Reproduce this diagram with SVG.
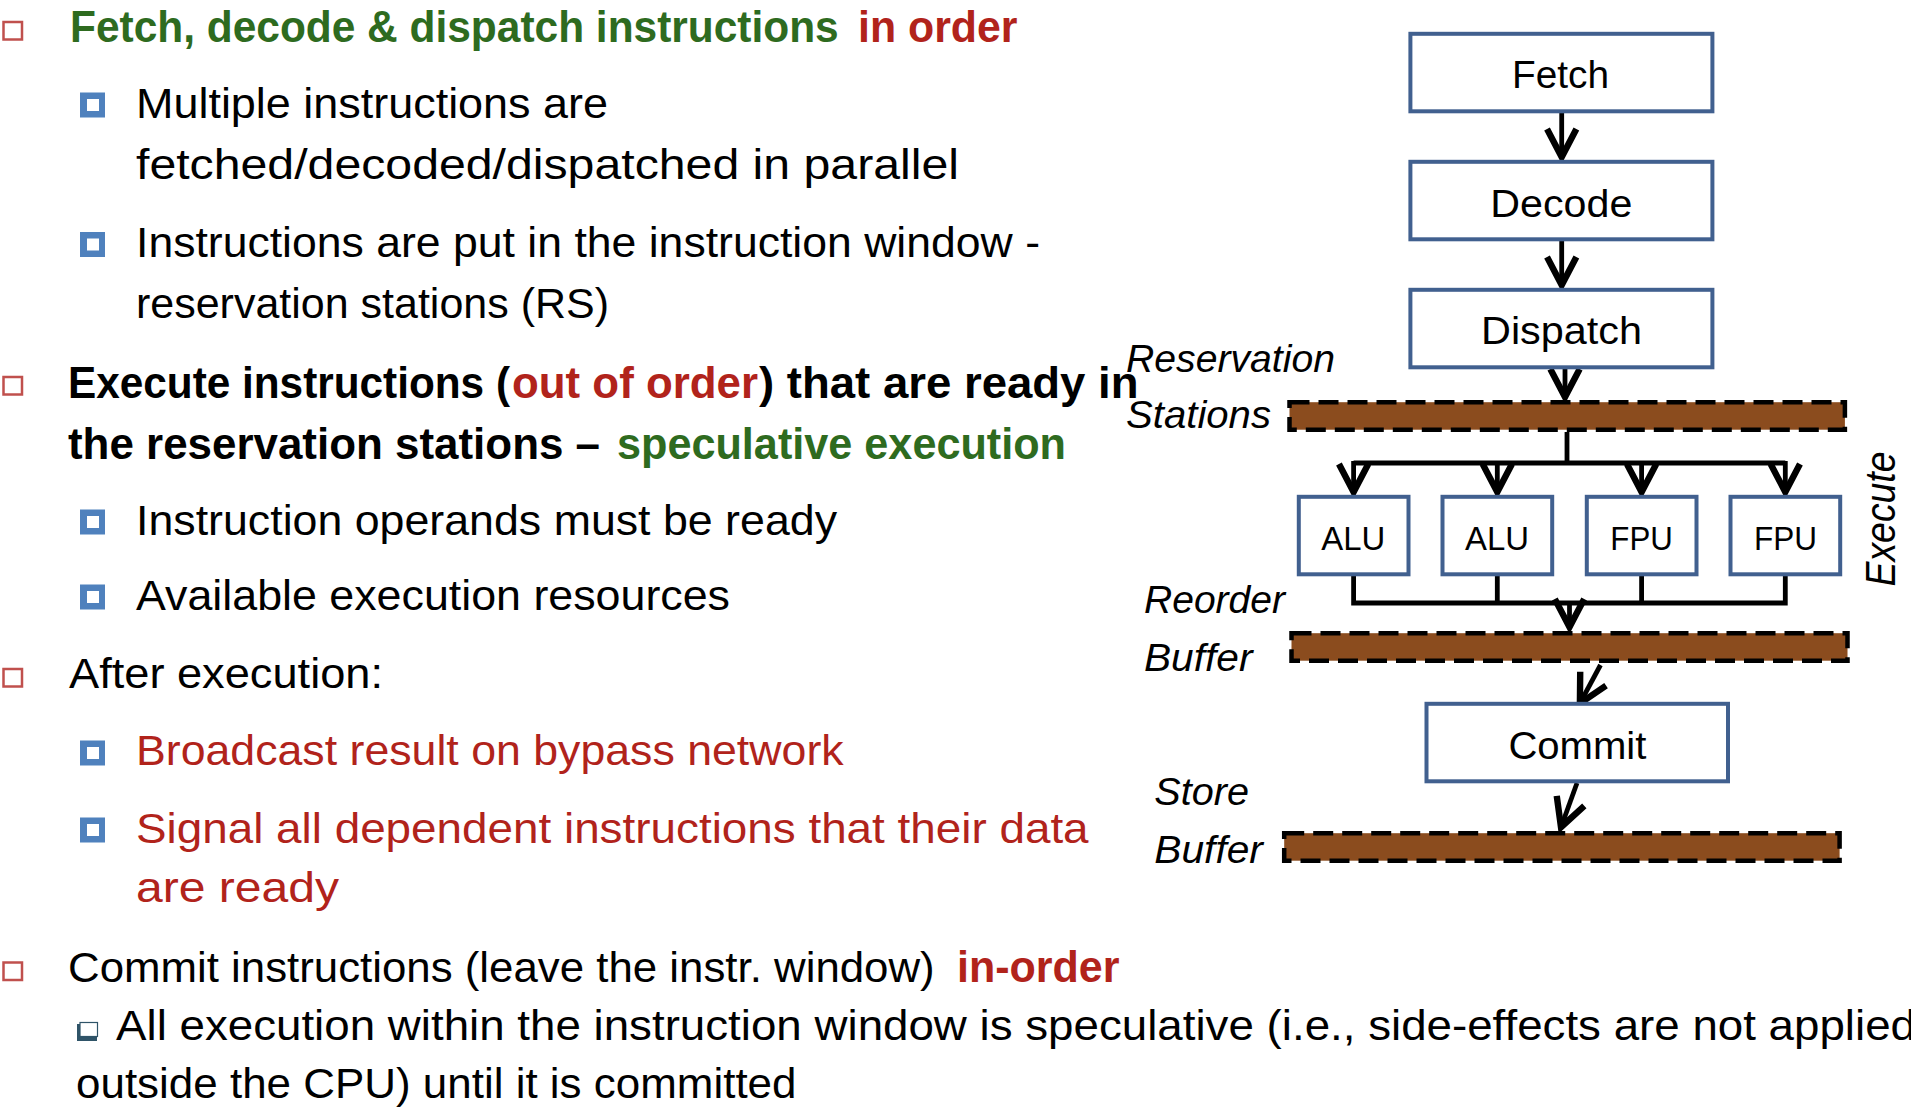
<svg xmlns="http://www.w3.org/2000/svg" width="1911" height="1119" viewBox="0 0 1911 1119">
<style>
text{font-family:"Liberation Sans",Arial,sans-serif;fill:#000}
.t{font-size:42px}
.b{font-size:44px;font-weight:bold}
.g{fill:#2E6B1F}
.r{fill:#B1231B}
.lab{font-size:38px;font-style:italic}
.box{fill:#fff;stroke:#41608F;stroke-width:4}
.nl{font-size:38px}
.fu{font-size:34px}
.bar{fill:#8B4C1E;stroke:#000;stroke-width:4.5;stroke-dasharray:20 9}
.c{stroke:#000;stroke-width:4.8;fill:none}
.rb{fill:#fff;stroke:#C0504D;stroke-width:2.5}
.bb{fill:#4F81BD}
</style>
<defs>
<marker id="ah" markerUnits="userSpaceOnUse" markerWidth="40" markerHeight="40" viewBox="-25 -15 30 30" refX="0" refY="0" orient="auto" overflow="visible">
<path d="M-21,-11 L0,0 L-21,11" fill="none" stroke="#000" stroke-width="4.8"/>
</marker>
<g id="blue"><rect class="bb" x="0" y="0" width="25" height="25"/><rect fill="#fff" x="7" y="6.5" width="12" height="12"/></g>
</defs>
<rect width="1911" height="1119" fill="#fff"/>

<g id="text-block">
<rect class="rb" x="3.5" y="22" width="18.5" height="17.5"/>
<text x="70" y="41.5" class="b g" textLength="768.7" lengthAdjust="spacingAndGlyphs">Fetch, decode &amp; dispatch instructions</text>
<text x="858" y="41.5" class="b r" textLength="159.5" lengthAdjust="spacingAndGlyphs">in order</text>

<use href="#blue" x="80" y="92.5"/>
<text x="136" y="117.5" class="t" textLength="472" lengthAdjust="spacingAndGlyphs">Multiple instructions are</text>
<text x="136" y="179" class="t" textLength="823" lengthAdjust="spacingAndGlyphs">fetched/decoded/dispatched in parallel</text>
<use href="#blue" x="80" y="232"/>
<text x="136" y="256.5" class="t" textLength="904" lengthAdjust="spacingAndGlyphs">Instructions are put in the instruction window -</text>
<text x="136" y="318" class="t" textLength="473" lengthAdjust="spacingAndGlyphs">reservation stations (RS)</text>

<rect class="rb" x="3.5" y="377" width="18.5" height="17.5"/>
<text x="68" y="397.5" class="b" textLength="442" lengthAdjust="spacingAndGlyphs">Execute instructions (</text>
<text x="512" y="397.5" class="b r" textLength="246" lengthAdjust="spacingAndGlyphs">out of order</text>
<text x="759" y="397.5" class="b" textLength="379.5" lengthAdjust="spacingAndGlyphs">) that are ready in</text>
<text x="68" y="458.5" class="b" textLength="532" lengthAdjust="spacingAndGlyphs">the reservation stations –</text>
<text x="617" y="458.5" class="b g" textLength="449" lengthAdjust="spacingAndGlyphs">speculative execution</text>

<use href="#blue" x="80" y="509.5"/>
<text x="136" y="534.5" class="t" textLength="701" lengthAdjust="spacingAndGlyphs">Instruction operands must be ready</text>
<use href="#blue" x="80" y="584.5"/>
<text x="136" y="609.5" class="t" textLength="594" lengthAdjust="spacingAndGlyphs">Available execution resources</text>

<rect class="rb" x="3.5" y="669" width="18.5" height="17.5"/>
<text x="69" y="688.3" class="t" textLength="314" lengthAdjust="spacingAndGlyphs">After execution:</text>

<use href="#blue" x="80" y="740.5"/>
<text x="136" y="765.3" class="t r" textLength="707.6" lengthAdjust="spacingAndGlyphs">Broadcast result on bypass network</text>
<use href="#blue" x="80" y="817.5"/>
<text x="136" y="842.5" class="t r" textLength="952.6" lengthAdjust="spacingAndGlyphs">Signal all dependent instructions that their data</text>
<text x="136" y="901.7" class="t r" textLength="203" lengthAdjust="spacingAndGlyphs">are ready</text>

<rect class="rb" x="3.5" y="962.5" width="18.5" height="17.5"/>
<text x="68" y="981.7" class="t" textLength="866.7" lengthAdjust="spacingAndGlyphs">Commit instructions (leave the instr. window)</text>
<text x="957" y="981.7" class="b r" textLength="162.5" lengthAdjust="spacingAndGlyphs">in-order</text>

<rect x="77" y="1024" width="20" height="17" fill="#2F5468"/>
<rect x="80" y="1022.5" width="17.5" height="14" fill="#fff" stroke="#2F5468" stroke-width="1.2"/>
<text x="116" y="1040" class="t" textLength="1800" lengthAdjust="spacingAndGlyphs">All execution within the instruction window is speculative (i.e., side-effects are not applied</text>
<text x="76" y="1098" class="t" textLength="720.5" lengthAdjust="spacingAndGlyphs">outside the CPU) until it is committed</text>
</g>

<g id="connectors">
<line class="c" x1="1561.7" y1="113" x2="1561.7" y2="157" marker-end="url(#ah)"/>
<line class="c" x1="1561.7" y1="241" x2="1561.7" y2="285" marker-end="url(#ah)"/>
<line class="c" x1="1565" y1="369" x2="1565" y2="397" marker-end="url(#ah)"/>
<polyline class="c" points="1567,432 1567,463"/>
<polyline class="c" points="1353.6,463 1785.3,463"/>
<line class="c" x1="1353.6" y1="461" x2="1353.6" y2="492" marker-end="url(#ah)"/>
<line class="c" x1="1497.3" y1="461" x2="1497.3" y2="492" marker-end="url(#ah)"/>
<line class="c" x1="1641.6" y1="461" x2="1641.6" y2="492" marker-end="url(#ah)"/>
<line class="c" x1="1785.3" y1="461" x2="1785.3" y2="492" marker-end="url(#ah)"/>
<polyline class="c" points="1353.6,575 1353.6,603 1785.3,603 1785.3,575"/>
<line class="c" x1="1497.3" y1="575" x2="1497.3" y2="603"/>
<line class="c" x1="1641.6" y1="575" x2="1641.6" y2="603"/>
<line class="c" x1="1569.5" y1="603" x2="1569.5" y2="627" marker-end="url(#ah)"/>
<line class="c" x1="1600.5" y1="665" x2="1579.9" y2="703.4" marker-end="url(#ah)"/>
<line class="c" x1="1577" y1="783" x2="1561" y2="827.2" marker-end="url(#ah)"/>
</g>

<g id="fetch"><rect class="box" x="1410.4" y="33.8" width="302" height="77.5"/><text class="nl" x="1512" y="88.3" textLength="97" lengthAdjust="spacingAndGlyphs">Fetch</text></g>
<g id="decode"><rect class="box" x="1410.4" y="161.8" width="302" height="77.5"/><text class="nl" x="1490.3" y="216.7" textLength="142" lengthAdjust="spacingAndGlyphs">Decode</text></g>
<g id="dispatch"><rect class="box" x="1410.4" y="289.8" width="302" height="77.5"/><text class="nl" x="1481" y="344" textLength="161" lengthAdjust="spacingAndGlyphs">Dispatch</text></g>

<g id="reservation-stations">
<rect class="bar" x="1289.5" y="402.2" width="555.4" height="27.5"/>
<text class="lab" x="1126" y="372" textLength="209" lengthAdjust="spacingAndGlyphs">Reservation</text>
<text class="lab" x="1126" y="428" textLength="145" lengthAdjust="spacingAndGlyphs">Stations</text>
</g>

<g id="alu1"><rect class="box" x="1298.8" y="496.8" width="109.7" height="77.5"/><text class="fu" x="1321.3" y="550" textLength="64" lengthAdjust="spacingAndGlyphs">ALU</text></g>
<g id="alu2"><rect class="box" x="1442.5" y="496.8" width="109.7" height="77.5"/><text class="fu" x="1465" y="550" textLength="64" lengthAdjust="spacingAndGlyphs">ALU</text></g>
<g id="fpu1"><rect class="box" x="1586.8" y="496.8" width="109.7" height="77.5"/><text class="fu" x="1610.3" y="550" textLength="62.5" lengthAdjust="spacingAndGlyphs">FPU</text></g>
<g id="fpu2"><rect class="box" x="1730.5" y="496.8" width="109.7" height="77.5"/><text class="fu" x="1754" y="550" textLength="63" lengthAdjust="spacingAndGlyphs">FPU</text></g>

<g id="execute-label"><text transform="translate(1895,519) rotate(-90)" x="0" y="0" text-anchor="middle" style="font-size:42px;font-style:italic" textLength="135" lengthAdjust="spacingAndGlyphs">Execute</text></g>

<g id="reorder-buffer">
<rect class="bar" x="1291.5" y="633.2" width="556" height="27.5"/>
<text class="lab" x="1144" y="613" textLength="141" lengthAdjust="spacingAndGlyphs">Reorder</text>
<text class="lab" x="1144" y="670.5" textLength="108.5" lengthAdjust="spacingAndGlyphs">Buffer</text>
</g>

<g id="commit"><rect class="box" x="1426.5" y="703.8" width="301.5" height="77.5"/><text class="nl" x="1508.4" y="759.3" textLength="138" lengthAdjust="spacingAndGlyphs">Commit</text></g>

<g id="store-buffer">
<rect class="bar" x="1284.2" y="833.2" width="555.4" height="27.5"/>
<text class="lab" x="1154.3" y="805" textLength="94.6" lengthAdjust="spacingAndGlyphs">Store</text>
<text class="lab" x="1154.3" y="863" textLength="108.6" lengthAdjust="spacingAndGlyphs">Buffer</text>
</g>
</svg>
